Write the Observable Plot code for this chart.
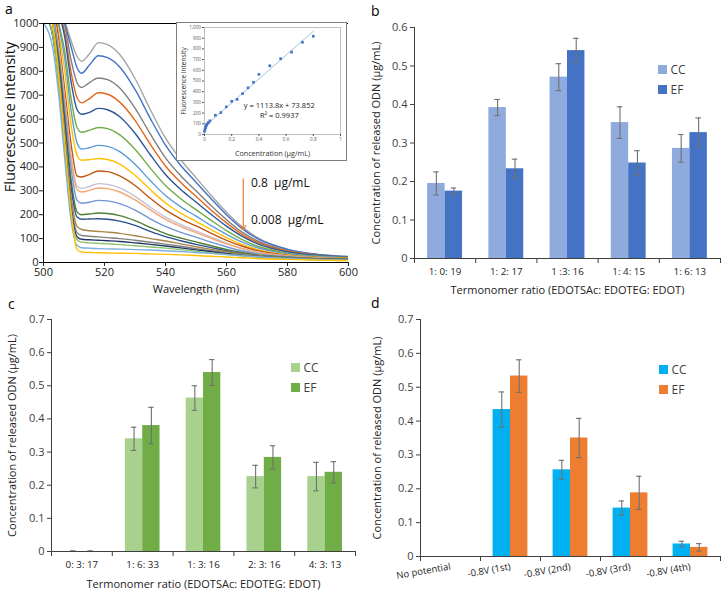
<!DOCTYPE html>
<html><head><meta charset="utf-8">
<script src="https://cdn.jsdelivr.net/npm/d3@7"></script>
<script src="https://cdn.jsdelivr.net/npm/@observablehq/plot@0.6"></script>
<style>
body{margin:0;background:#fff;}
#root{position:relative;width:723px;height:590px;overflow:hidden;font-family:"Open Sans",sans-serif;background:#fff;}
.panel{position:absolute;}
.letter{position:absolute;font:14px "Open Sans",sans-serif;color:#000;line-height:1;}
.legend{position:absolute;font:12px "Open Sans",sans-serif;color:#404040;}
.legend .row{display:flex;align-items:center;height:20px;}
.legend .sw{width:9px;height:9px;margin-right:4px;}
#inset{position:absolute;left:176px;top:22px;border:1.5px solid #7f7f7f;background:#fff;line-height:0;}
.vtitle{position:absolute;white-space:nowrap;font:14.5px "Open Sans",sans-serif;color:#111;line-height:1;transform:translate(-50%,-50%) rotate(-90deg);}
</style></head><body><div id="root"></div>
<script>
// ---------- Panel a: fluorescence spectra ----------
const wavelengths = [500,503,505,507,509,511,512.5,515,518,521,525,530,535,540,545,550,555,560,565,570,580,590,600];
const spectra = [
  [1300,1200,1100,1010,930,862,842,872,920,912,870,770,640,520,430,355,280,210,150,105,55,33,24],
  [1300,1200,1100,1000,905,815,792,825,865,857,818,724,603,491,406,336,266,200,143,101,55,34,25],
  [1250,1150,1080,990,850,752,732,752,772,765,730,646,538,438,363,300,237,179,128,91,49,31,23],
  [1250,1150,1060,960,800,690,668,685,710,704,671,595,495,404,335,277,219,166,119,85,47,30,23],
  [1250,1150,1050,940,760,640,620,628,645,639,610,541,451,368,305,253,201,152,110,79,44,29,22],
  [1200,1100,1000,880,690,565,545,553,565,560,534,474,395,322,267,221,176,133,97,69,39,26,20],
  [1200,1100,990,850,640,500,475,480,490,486,464,411,343,280,233,194,154,118,86,62,36,25,20],
  [1200,1100,960,800,580,450,428,430,435,431,412,365,305,249,207,172,137,104,76,55,32,22,18],
  [1200,1100,930,720,500,362,358,368,383,380,362,322,269,220,183,153,122,93,69,50,30,21,17],
  [1150,1050,900,680,450,320,310,318,330,327,312,277,232,190,159,132,106,81,60,45,27,19,16],
  [1150,1050,890,670,440,305,295,302,312,309,295,262,220,180,150,125,101,78,58,43,27,19,16],
  [1150,1050,870,640,400,260,248,252,260,258,246,219,183,151,126,106,85,66,49,37,24,17,15],
  [1100,1000,850,600,350,212,200,203,207,205,196,175,147,121,102,86,70,55,42,32,22,16,14],
  [1100,1000,830,580,320,190,181,182,183,181,173,155,130,108,91,76,62,49,37,29,20,15,13],
  [1100,1000,800,540,280,150,138,133,130,127,122,112,100,90,78,66,55,45,36,29,20,14,12],
  [1050,950,780,510,250,125,113,110,107,104,100,93,85,77,68,58,49,40,32,26,18,13,11],
  [1050,950,760,490,230,108,97,95,93,91,88,82,76,69,61,53,45,37,30,25,17,12,10],
  [1050,950,740,470,210,95,85,82,80,78,75,70,65,60,54,47,40,34,28,23,16,12,10],
  [1000,900,700,430,180,72,62,60,58,57,56,54,52,49,46,42,38,33,28,24,17,12,9],
  [1100,1000,780,500,220,55,44,42,41,40,39,38,36,34,32,29,26,23,20,17,13,10,8]
];
const spectraColors = ["#A5A5A5","#4472C4","#7F7F7F","#E2681C","#2F5597","#70AD47","#5B9BD5","#FFC000","#C0560F","#C6C1D6",
  "#F4A773","#7096D8","#4E7E31","#2B5190","#A8844A","#808080","#203864","#8CC168","#7CAFDD","#FFC000"];
const xTicksA = [500,520,540,560,580,600];
const yTicksA = [0,100,200,300,400,500,600,700,800,900,1000];
const yTitleA = "Fluorescence intensity";
const arrowA = [{x1: 565.5, y1: 350, x2: 565.5, y2: 137}];
const annotA = [{x: 568, y: 332, text: "0.8  µg/mL"}, {x: 568, y: 176, text: "0.008  µg/mL"}];

// inset calibration
const calConc = [0,0.004,0.008,0.012,0.016,0.02,0.03,0.04,0.08,0.12,0.16,0.2,0.24,0.28,0.32,0.36,0.4,0.48,0.56,0.64,0.72,0.8];
const calInt  = [30,50,65,80,92,100,112,128,180,205,258,310,328,382,436,488,562,642,708,770,862,918];
const trendConc = [0, 0.8];
const trendInt = [73.852, 964.9];
const insetXTicks = [0,0.2,0.4,0.6,0.8,1];
const insetYTicks = [0,100,200,300,400,500,600,700,800,900,1000];
const insetText = [{x: 0.55, y: 270, text: "y = 1113.8x + 73.852"}, {x: 0.55, y: 181, text: "R² = 0.9937"}];

// ---------- Panels b, c, d ----------
const seriesNames = ["CC", "EF"];
const catsB = ["1: 0: 19","1: 2: 17","1 :3: 16","1: 4: 15","1: 6: 13"];
const ccB = [0.195,0.392,0.471,0.353,0.286];
const ccErrB = [0.030,0.021,0.035,0.041,0.036];
const efB = [0.175,0.233,0.540,0.248,0.327];
const efErrB = [0.008,0.025,0.032,0.032,0.038];
const colorsB = ["#8FAADC","#4472C4"];

const catsC = ["0: 3: 17","1: 6: 33","1: 3: 16","2: 3: 16","4: 3: 13"];
const ccC = [0,0.340,0.463,0.226,0.226];
const ccErrC = [0.002,0.035,0.037,0.034,0.043];
const efC = [0,0.380,0.540,0.284,0.239];
const efErrC = [0.002,0.055,0.039,0.035,0.032];
const colorsC = ["#A9D18E","#70AD47"];

const catsD = ["No potential","-0.8V (1st)","-0.8V (2nd)","-0.8V (3rd)","-0.8V (4th)"];
const ccD = [0,0.434,0.256,0.143,0.037];
const ccErrD = [0,0.052,0.028,0.021,0.008];
const efD = [0,0.533,0.350,0.188,0.027];
const efErrD = [0,0.048,0.058,0.049,0.011];
const colorsD = ["#00B0F0","#ED7D31"];

const yTicksB = [0,0.1,0.2,0.3,0.4,0.5,0.6];
const yTicksCD = [0,0.1,0.2,0.3,0.4,0.5,0.6,0.7];
const yTitle = "Concentration of released ODN (µg/mL)";
const xTitle = "Termonomer ratio (EDOTSAc: EDOTEG: EDOT)";

const root = document.getElementById("root");
const FONT = "Open Sans, sans-serif";
const AX = "#404040";

function place(el, left, top) {
  const d = document.createElement("div");
  d.className = "panel";
  d.style.left = left + "px"; d.style.top = top + "px"; d.style.lineHeight = "0";
  d.appendChild(el); root.appendChild(d); return d;
}

// ---- panel a ----
const specRows = spectra.flatMap((vals, k) => vals.map((v, j) => ({k, w: wavelengths[j], v})));
const plotA = Plot.plot({
  width: 360, height: 295, marginLeft: 43, marginRight: 12, marginTop: 23, marginBottom: 33,
  x: {domain: [500, 600]},
  y: {domain: [0, 1000]},
  color: {domain: d3.range(spectra.length), range: spectraColors},
  style: {fontFamily: FONT, background: "transparent", color: "#000"},
  marks: [
    Plot.line(specRows, {x: "w", y: "v", z: "k", stroke: "k", curve: "monotone-x", strokeWidth: 1.4, clip: true}),
    Plot.ruleY([1000], {stroke: "#000", strokeWidth: 1}),
    Plot.ruleY([0], {stroke: "#000", strokeWidth: 1}),
    Plot.ruleX([500], {stroke: "#000", strokeWidth: 1}),
    Plot.axisY({ticks: yTicksA, tickFormat: d3.format("d"), tickSize: 4, tickPadding: 1, fontSize: 11, label: null, color: "#222"}),
    Plot.axisX({ticks: xTicksA, tickSize: 4, tickPadding: 2, fontSize: 11, label: null, color: "#222"}),
    Plot.axisX({ticks: [], label: "Wavelength (nm)", labelAnchor: "center", labelOffset: 30, labelArrow: "none", fontSize: 11, color: "#111"}),
    Plot.arrow(arrowA, {x1: "x1", y1: "y1", x2: "x2", y2: "y2", stroke: "#ED7D31", strokeWidth: 1.2, headLength: 6}),
    Plot.text(annotA, {x: "x", y: "y", text: "text", textAnchor: "start", fontSize: 12, fill: "#111"})
  ]
});
place(plotA, 0, 0);
const vt = document.createElement("div");
vt.className = "vtitle"; vt.textContent = yTitleA;
vt.style.left = "10px"; vt.style.top = "117px";
root.appendChild(vt);

// ---- inset ----
const calRows = calConc.map((c, i) => ({c, v: calInt[i]}));
const trendRows = trendConc.map((c, i) => ({c, v: trendInt[i]}));
const plotInset = Plot.plot({
  width: 169, height: 137, marginLeft: 27, marginRight: 6, marginTop: 4, marginBottom: 26,
  x: {domain: [0, 1]},
  y: {domain: [0, 1000]},
  style: {fontFamily: FONT, background: "#fff"},
  marks: [
    Plot.frame({stroke: "#bfbfbf"}),
    Plot.line(trendRows, {x: "c", y: "v", stroke: "#9DC3E6", strokeWidth: 1}),
    Plot.dot(calRows, {x: "c", y: "v", symbol: "square", r: 1.5, fill: "#4472C4"}),
    Plot.axisX({ticks: insetXTicks, tickSize: 2, tickPadding: 1.5, fontSize: 4.6, label: null, color: "#555", tickFormat: d3.format("~g")}),
    Plot.axisX({ticks: [], label: "Concentration (µg/mL)", labelAnchor: "center", labelOffset: 21, labelArrow: "none", fontSize: 7.2, color: "#333"}),
    Plot.axisY({ticks: insetYTicks, tickSize: 2, tickPadding: 1.5, fontSize: 4.6, label: null, color: "#555"}),
    Plot.axisY({ticks: [], label: "Fluorescence intensity", labelAnchor: "center", labelOffset: 23, labelArrow: "none", fontSize: 6.5, color: "#333"}),
    Plot.text(insetText, {x: "x", y: "y", text: "text", fontSize: 7.5, fill: "#222"})
  ]
});
const insetDiv = document.createElement("div");
insetDiv.id = "inset";
insetDiv.appendChild(plotInset);
root.appendChild(insetDiv);

// ---- bar panels ----
function barPanel(o) {
  const rows = [];
  o.cats.forEach((c, i) => {
    rows.push({i, s: "CC", v: o.cc[i], e: o.ccErr[i]});
    rows.push({i, s: "EF", v: o.ef[i], e: o.efErr[i]});
  });
  const start = {CC: 0.5 - o.bw, EF: 0.5};
  const lo = d => d.i + start[d.s];
  const hi = d => d.i + start[d.s] + o.bw;
  const mid = d => d.i + start[d.s] + o.bw / 2;
  const cap = 0.045;
  const err = rows.filter(d => d.e > 0);
  const marks = [
    Plot.rectY(rows.filter(d => d.v > 0), {x1: lo, x2: hi, y1: 0, y2: "v", fill: "s"}),
    Plot.ruleX(err, {x: mid, y1: d => Math.max(0, d.v - d.e), y2: d => d.v + d.e, stroke: "#707070", strokeWidth: 1.1}),
    Plot.ruleY(err, {y: d => d.v + d.e, x1: d => mid(d) - cap, x2: d => mid(d) + cap, stroke: "#707070", strokeWidth: 1.1}),
    Plot.ruleY(err, {y: d => Math.max(0, d.v - d.e), x1: d => mid(d) - cap, x2: d => mid(d) + cap, stroke: "#707070", strokeWidth: 1.1}),
    Plot.ruleY([0], {stroke: AX, strokeWidth: 1}),
    Plot.ruleX([0], {stroke: AX, strokeWidth: 1}),
    Plot.axisY({ticks: o.yTicks, tickFormat: d3.format("~g"), tickSize: 4, tickPadding: 3, fontSize: 11, label: null, color: AX}),
    Plot.axisY({ticks: [], label: yTitle, labelAnchor: "center", labelOffset: o.yLabelOffset, labelArrow: "none", fontSize: 11, color: "#222"}),
    Plot.axisX({ticks: d3.range(o.cats.length + 1), tickFormat: () => "", tickSize: 5, label: null, color: AX}),
    Plot.axisX({ticks: o.cats.map((c, i) => i + 0.5), tickFormat: d => o.cats[Math.floor(d)], tickSize: 0,
      tickPadding: o.tickPadding, tickRotate: o.tickRotate || 0, fontSize: o.catFont, label: null, color: "#222"})
  ];
  if (o.xLabel) marks.push(Plot.axisX({ticks: [], label: o.xLabel, labelAnchor: "center", labelOffset: o.xLabelOffset, labelArrow: "none", fontSize: 11, color: "#222"}));
  return Plot.plot({
    width: o.width, height: o.height,
    marginLeft: o.ml, marginRight: o.mr, marginTop: o.mt, marginBottom: o.mb,
    x: {domain: [0, o.cats.length]},
    y: {domain: [0, o.yMax]},
    color: {domain: seriesNames, range: o.colors},
    style: {fontFamily: FONT, background: "transparent"},
    marks
  });
}

function legend(colors, left, top) {
  const d = document.createElement("div");
  d.className = "legend";
  d.style.left = left + "px"; d.style.top = top + "px";
  seriesNames.forEach((n, i) => {
    const r = document.createElement("div"); r.className = "row";
    const s = document.createElement("div"); s.className = "sw"; s.style.background = colors[i];
    const t = document.createElement("span"); t.textContent = n;
    r.appendChild(s); r.appendChild(t); d.appendChild(r);
  });
  root.appendChild(d);
}

const plotB = barPanel({cats: catsB, cc: ccB, ccErr: ccErrB, ef: efB, efErr: efErrB, colors: colorsB,
  yMax: 0.6, yTicks: yTicksB, width: 363, height: 295, ml: 54, mr: 3, mt: 27, mb: 37, bw: 0.285,
  yLabelOffset: 42, xLabel: xTitle, xLabelOffset: 35, tickPadding: 10, catFont: 9.8});
place(plotB, 360, 0);
legend(colorsB, 657.5, 59);

const plotC = barPanel({cats: catsC, cc: ccC, ccErr: ccErrC, ef: efC, efErr: efErrC, colors: colorsC,
  yMax: 0.7, yTicks: yTicksCD, width: 360, height: 300, ml: 51, mr: 5, mt: 29, mb: 39, bw: 0.285,
  yLabelOffset: 43, xLabel: xTitle, xLabelOffset: 36, tickPadding: 10, catFont: 9.8});
place(plotC, 0, 290);
legend(colorsC, 290.5, 357);

const plotD = barPanel({cats: catsD, cc: ccD, ccErr: ccErrD, ef: efD, efErr: efErrD, colors: colorsD,
  yMax: 0.7, yTicks: yTicksCD, width: 363, height: 300, ml: 60, mr: 3, mt: 29, mb: 34, bw: 0.29,
  yLabelOffset: 47, xLabel: null, tickPadding: 10, tickRotate: -10, catFont: 9.5});
place(plotD, 360, 290);
legend(colorsD, 658.5, 359);

// panel letters
[["a", 5, 2], ["b", 371, 4], ["c", 8, 297], ["d", 371, 296]].forEach(([t, x, y]) => {
  const l = document.createElement("div"); l.className = "letter"; l.textContent = t;
  l.style.left = x + "px"; l.style.top = y + "px"; root.appendChild(l);
});
</script></body></html>
